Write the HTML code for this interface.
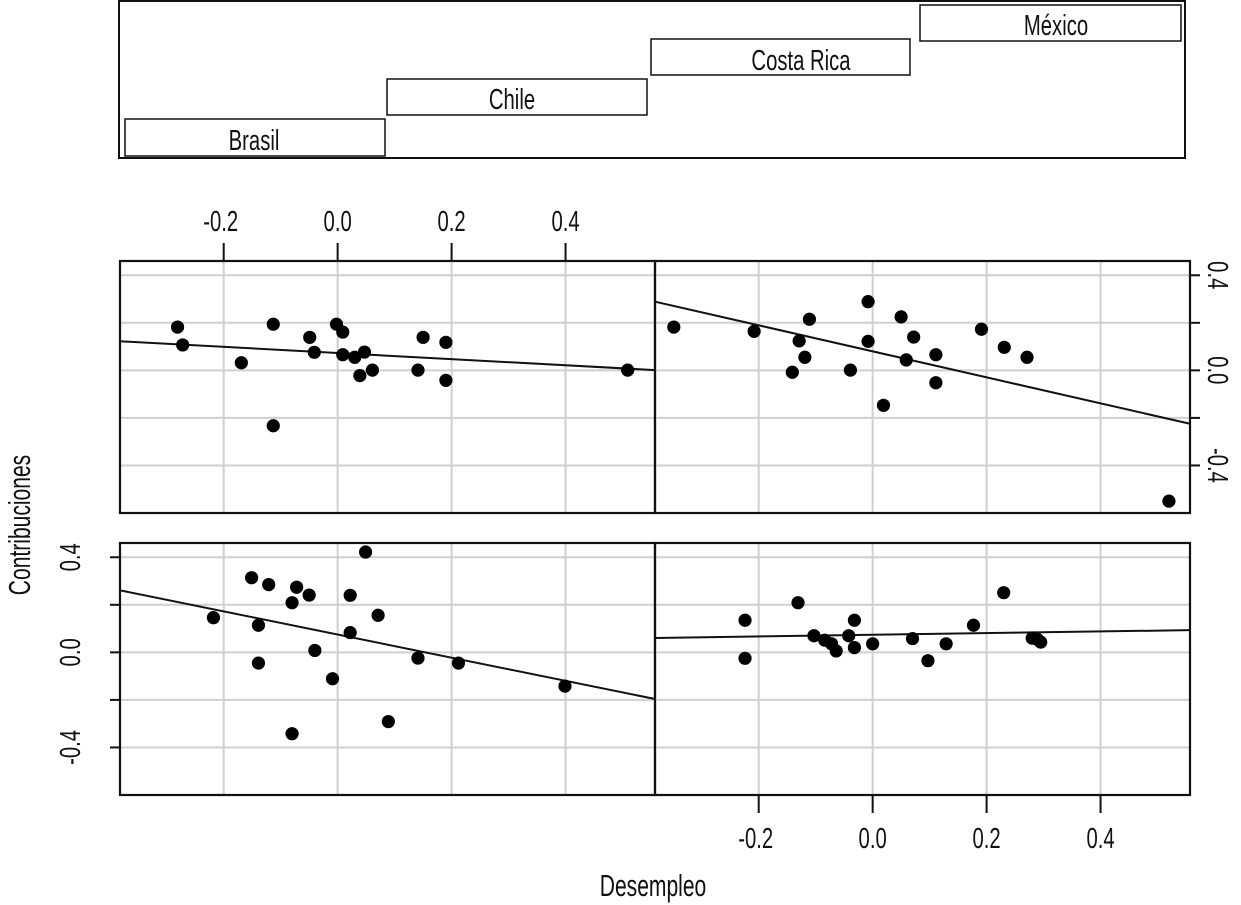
<!DOCTYPE html>
<html><head><meta charset="utf-8">
<style>
html,body{margin:0;padding:0;background:#fff;}
svg{display:block;}
text{font-family:"Liberation Sans",sans-serif;fill:#111;}
</style></head>
<body>
<svg id="chart" width="1241" height="905" viewBox="0 0 1241 905" xmlns="http://www.w3.org/2000/svg">
  <g>
    <rect x="119" y="1" width="1066" height="157" fill="none" stroke="#111" stroke-width="2"/>
    <rect x="125" y="119" width="260" height="37" fill="none" stroke="#111" stroke-width="1.5"/>
    <text transform="translate(254,150) scale(0.78,1.12)" font-size="26" text-anchor="middle">Brasil</text>
    <rect x="387" y="79" width="260" height="36" fill="none" stroke="#111" stroke-width="1.5"/>
    <text transform="translate(512,109) scale(0.78,1.12)" font-size="26" text-anchor="middle">Chile</text>
    <rect x="651" y="39" width="259" height="36" fill="none" stroke="#111" stroke-width="1.5"/>
    <text transform="translate(801,70) scale(0.78,1.12)" font-size="26" text-anchor="middle">Costa Rica</text>
    <rect x="920" y="5" width="261" height="36" fill="none" stroke="#111" stroke-width="1.5"/>
    <text transform="translate(1056,35) scale(0.78,1.12)" font-size="26" text-anchor="middle">México</text>
  </g>
  <g id="panels"></g>
  <text transform="translate(30,525) rotate(-90) scale(0.78,1.12)" font-size="27" text-anchor="middle">Contribuciones</text>
  <text transform="translate(653,896) scale(0.78,1.12)" font-size="27" text-anchor="middle">Desempleo</text>
</svg>
<script>
// Data per panel (Desempleo x, Contribuciones y)
const panelNames = ["costa-rica","mexico","brasil","chile"];
const xCostaRica = [-0.281,-0.272,-0.169,-0.113,-0.113,-0.049,-0.041,-0.002,0.009,0.009,0.030,0.047,0.039,0.061,0.141,0.150,0.190,0.190,0.509];
const yCostaRica = [0.182,0.107,0.032,0.194,-0.233,0.139,0.076,0.194,0.161,0.066,0.055,0.077,-0.022,0.001,0.001,0.139,0.118,-0.042,0.001];
const xMexico = [-0.349,-0.208,-0.111,-0.129,-0.119,-0.141,-0.039,-0.008,-0.008,0.019,0.050,0.072,0.059,0.111,0.111,0.191,0.231,0.271,0.520];
const yMexico = [0.182,0.164,0.215,0.124,0.055,-0.008,0.001,0.289,0.122,-0.147,0.225,0.140,0.044,0.066,-0.052,0.173,0.097,0.055,-0.550];
const xBrasil = [-0.218,-0.151,-0.121,-0.072,-0.050,-0.080,-0.139,-0.139,-0.040,-0.009,0.022,0.022,0.049,0.071,0.089,-0.080,0.141,0.212,0.399];
const yBrasil = [0.146,0.314,0.285,0.274,0.241,0.209,0.114,-0.045,0.008,-0.111,0.240,0.083,0.422,0.156,-0.291,-0.342,-0.024,-0.045,-0.142];
const xChile = [-0.224,-0.224,-0.131,-0.103,-0.084,-0.072,-0.064,-0.042,-0.032,-0.032,0.000,0.070,0.097,0.129,0.177,0.230,0.280,0.295,0.289];
const yChile = [0.135,-0.025,0.209,0.070,0.051,0.036,0.006,0.070,0.135,0.020,0.036,0.058,-0.035,0.036,0.114,0.251,0.060,0.043,0.055];
const fitIntercept = [0.073,0.080,0.075,0.074];
const fitSlope = [-0.129,-0.547,-0.487,0.035];
const xTicks = [-0.2,0.0,0.2,0.4];
const xTickLabels = ["-0.2","0.0","0.2","0.4"];
const yTicks = [-0.4,-0.2,0.0,0.2,0.4];
const yLabelTicks = [-0.4,0.0,0.4];
const yTickLabels = ["-0.4","0.0","0.4"];

const xs = [xCostaRica,xMexico,xBrasil,xChile];
const ys = [yCostaRica,yMexico,yBrasil,yChile];
const NS = "http://www.w3.org/2000/svg";
const X_MIN=-0.382, X_MAX=0.557, Y_MIN=-0.6, Y_MAX=0.46;
const PW=535, PH=252;
const layout=[{x:120,y:261},{x:655,y:261},{x:120,y:543},{x:655,y:543}];
const root=document.getElementById('panels');
const SC='scale(0.78,1.12)';
function mk(tag,attrs){const e=document.createElementNS(NS,tag);for(const k in attrs)e.setAttribute(k,attrs[k]);return e;}

layout.forEach((L,i)=>{
  const sx=v=>L.x+(v-X_MIN)/(X_MAX-X_MIN)*PW;
  const sy=v=>L.y+(Y_MAX-v)/(Y_MAX-Y_MIN)*PH;
  const g=mk('g',{});
  
  
  root.appendChild(g);
  xTicks.forEach(t=>{const l=mk('line',{x1:sx(t),x2:sx(t),y1:L.y,y2:L.y+PH,stroke:'#cfcfcf','stroke-width':2});
    
    
    g.appendChild(l);});
  yTicks.forEach(t=>{const l=mk('line',{x1:L.x,x2:L.x+PW,y1:sy(t),y2:sy(t),stroke:'#cfcfcf','stroke-width':2});
    
    
    g.appendChild(l);});
  const fl=mk('line',{x1:sx(X_MIN),y1:sy(fitIntercept[i]+fitSlope[i]*X_MIN),x2:sx(X_MAX),y2:sy(fitIntercept[i]+fitSlope[i]*X_MAX),stroke:'#111','stroke-width':2});
  
  
  g.appendChild(fl);
  xs[i].forEach((xv,j)=>{const c=mk('circle',{cx:sx(xv),cy:sy(ys[i][j]),r:6.6,fill:'#000'});
    
    
    g.appendChild(c);});
  const fr=mk('rect',{x:L.x,y:L.y,width:PW,height:PH,fill:'none',stroke:'#111','stroke-width':2.2});
  
  
  g.appendChild(fr);
  if(i===0||i===3){
    const top=(i===0);
    xTicks.forEach((t,k)=>{
      const y0=top?L.y:L.y+PH, y1=top?L.y-18:L.y+PH+18;
      const tl=mk('line',{x1:sx(t),x2:sx(t),y1:y0,y2:y1,stroke:'#111','stroke-width':2});
      
      
      g.appendChild(tl);
      const tx=mk('text',{'font-size':26,'text-anchor':'middle',
        transform:`translate(${sx(t)+(t<0?-3:0)},${top?L.y-30:L.y+PH+53}) ${SC}`});
      tx.textContent=xTickLabels[k];
      
      
      g.appendChild(tx);
    });
  }
  if(i===1||i===2){
    const right=(i===1);
    yTicks.forEach(t=>{
      const x0=right?L.x+PW:L.x, x1=right?L.x+PW+10:L.x-10;
      const tl=mk('line',{x1:x0,x2:x1,y1:sy(t),y2:sy(t),stroke:'#111','stroke-width':2});
      
      
      g.appendChild(tl);
    });
    yLabelTicks.forEach((t,k)=>{
      const tx=mk('text',{'font-size':26,'text-anchor':'middle',
        transform: right?`translate(${L.x+PW+18},${sy(t)}) rotate(90) ${SC}`:`translate(${L.x-40},${sy(t)}) rotate(-90) ${SC}`});
      tx.textContent=yTickLabels[k];
      
      
      g.appendChild(tx);
    });
  }
});
</script>
</body></html>
